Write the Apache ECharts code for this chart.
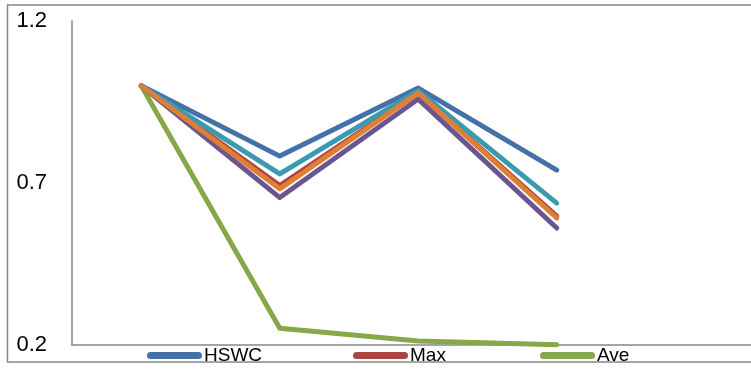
<!DOCTYPE html>
<html>
<head>
<meta charset="utf-8">
<script src="https://cdn.jsdelivr.net/npm/echarts@6/dist/echarts.min.js"></script>
<style>
  html, body { margin: 0; padding: 0; background: #ffffff; overflow: hidden; width: 751px; height: 371px; }
  #chart { width: 820px; height: 371px; }
</style>
</head>
<body>
<div id="chart"></div>
<script>
// Category positions along the x axis (five slots, the last one empty)
var categories = ['1', '2', '3', '4', '5'];

// Series values
var hswc = [1.0, 0.783, 0.993, 0.740];
var maxVals = [1.0, 0.692, 0.978, 0.598];
var ave = [1.0, 0.252, 0.212, 0.201];
var series4 = [1.0, 0.655, 0.959, 0.561];
var series5 = [1.0, 0.728, 0.985, 0.638];
var series6 = [1.0, 0.682, 0.978, 0.592];

// Legend entries shown in the bottom row
var legendNames = ['HSWC', 'Max', 'Ave'];
var legendLefts = [147, 353, 540];

// Y axis ticks
var yMin = 0.2, yMax = 1.2, yStep = 0.5;

var axisGrey = '#868686';

function line(name, data, color) {
  return {
    name: name,
    type: 'line',
    data: data,
    showSymbol: false,
    symbol: 'none',
    lineStyle: { color: color, width: 5, cap: 'round', join: 'round' },
    itemStyle: { color: color },
    animation: false
  };
}

var legends = legendNames.map(function (name, i) {
  return {
    data: [name],
    left: legendLefts[i],
    top: 346,
    padding: 0,
    itemWidth: 55,
    itemHeight: 7,
    icon: 'path://M3.5,0 L51.5,0 A3.5,3.5 0 0 1 51.5,7 L3.5,7 A3.5,3.5 0 0 1 3.5,0 Z',
    textStyle: { color: '#000000', fontFamily: 'Liberation Sans', fontSize: 19, padding: [0, 0, 0, -3] }
  };
});

var chart = echarts.init(document.getElementById('chart'), null, { renderer: 'canvas' });
chart.setOption({
  backgroundColor: '#ffffff',
  animation: false,
  grid: { left: 72, top: 21, width: 692.5, height: 324, containLabel: false, outerBoundsMode: 'none' },
  xAxis: {
    type: 'category',
    data: categories,
    boundaryGap: true,
    axisLine: { show: true, lineStyle: { color: axisGrey, width: 1.5 } },
    axisTick: { show: false },
    axisLabel: { show: false },
    splitLine: { show: false }
  },
  yAxis: {
    type: 'value',
    min: yMin,
    max: yMax,
    interval: yStep,
    axisLine: { show: true, lineStyle: { color: axisGrey, width: 1.5 } },
    axisTick: { show: false },
    splitLine: { show: false },
    axisLabel: {
      margin: 25,
      color: '#000000',
      fontFamily: 'Liberation Sans',
      fontSize: 22,
      formatter: function (v) { return v.toFixed(1); }
    }
  },
  legend: legends,
  graphic: [{
    type: 'rect',
    silent: true,
    z: 100,
    shape: { x: 7.5, y: 5, width: 830, height: 357 },
    style: { fill: null, stroke: axisGrey, lineWidth: 1.5 }
  }],
  series: [
    line('HSWC', hswc, '#4472A8'),
    line('Max', maxVals, '#AA4542'),
    line('Ave', ave, '#87A84A'),
    line('Series 4', series4, '#6B5591'),
    line('Series 5', series5, '#3B9AB0'),
    line('Series 6', series6, '#DE7F35')
  ]
});
</script>
</body>
</html>
